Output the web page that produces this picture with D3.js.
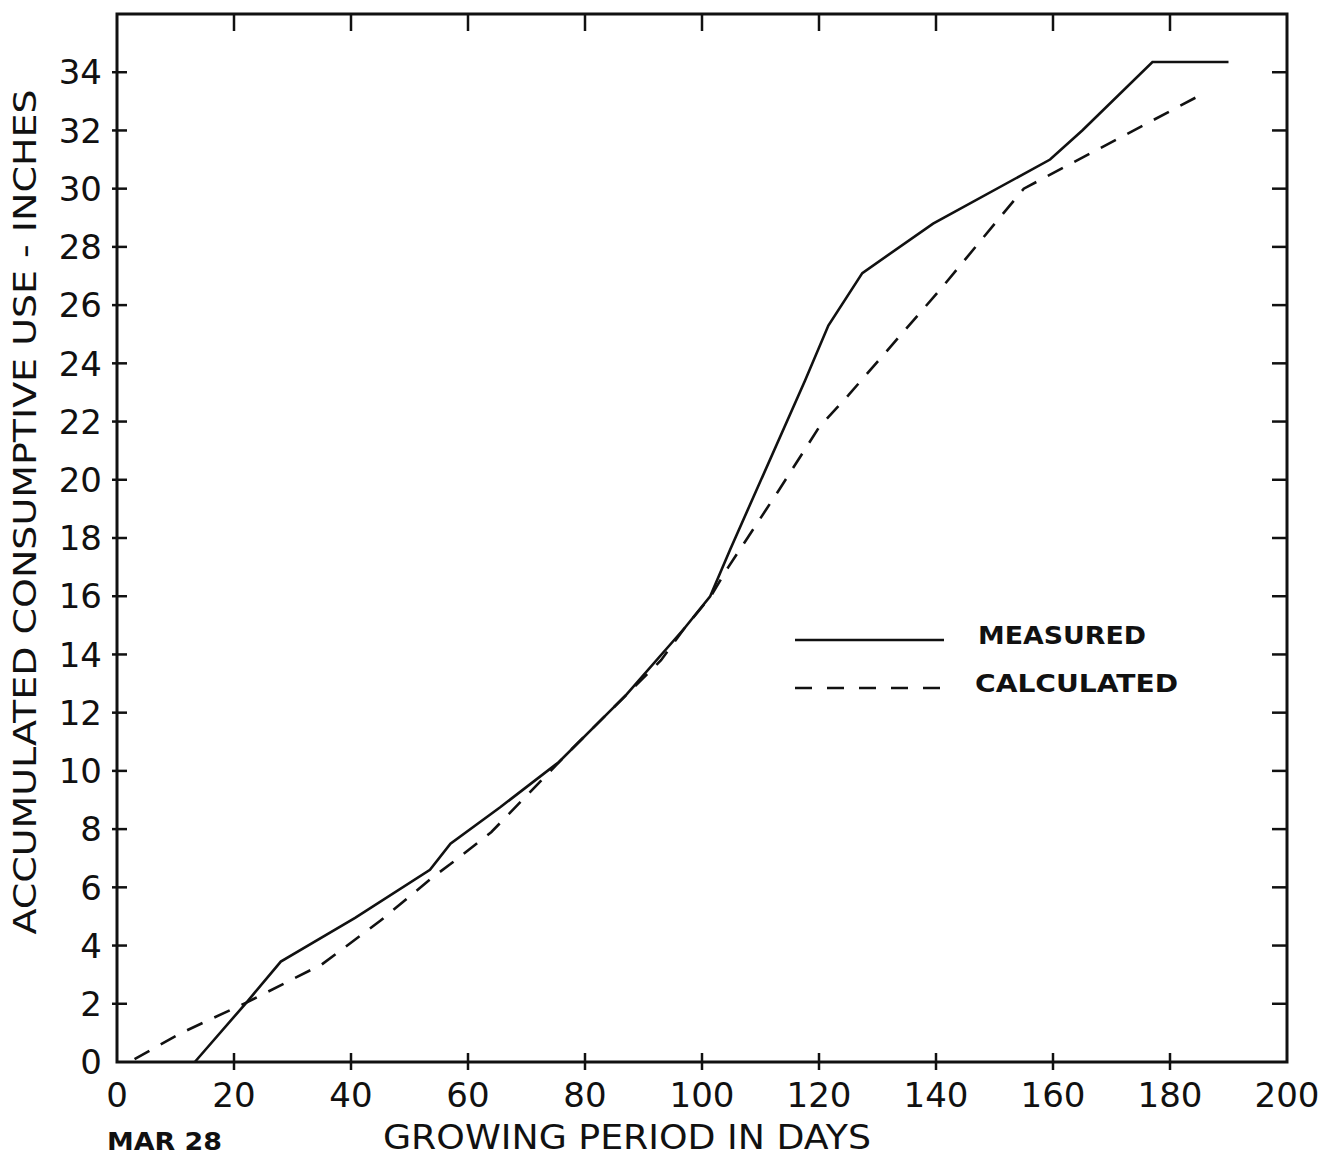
<!DOCTYPE html>
<html>
  <head>
    <meta charset="utf-8">
    <title>Accumulated Consumptive Use</title>
    <style>
      body {
        margin: 0;
        background: #fff;
      }
      svg text {
        font-family: 'DejaVu Sans', sans-serif;
        fill: #111;
      }
      .tick-label {
        font-size: 34px;
      }
      .axis-title {
        font-size: 32px;
      }
      .legend-label {
        font-size: 25px;
        font-weight: bold;
      }
      .date-label {
        font-size: 24px;
        font-weight: bold;
      }
    </style>
  </head>
  <body>
    <svg width="1338" height="1159"></svg>
    <script src="https://d3js.org/d3.v7.min.js"></script>
    <script>
      // day, inches
      const measuredDays = [13.3, 22.2, 28, 40.7, 53.5, 57, 65.5, 75.5, 87, 97, 101.4, 104.8, 117.6, 121.6, 127.4, 139.5, 159.5, 165, 177, 190];
      const measuredUse = [0, 2.06, 3.45, 4.95, 6.6, 7.5, 8.75, 10.3, 12.6, 14.9, 16.0, 17.6, 23.4, 25.3, 27.1, 28.8, 31.0, 32.0, 34.35, 34.35];

      const calculatedDays = [3, 11, 22.2, 35, 45, 54, 57, 64, 77, 93, 97, 101.5, 104.5, 113, 120, 125, 141, 155, 186];
      const calculatedUse = [0.1, 1.0, 2.05, 3.35, 4.85, 6.35, 6.8, 7.9, 10.6, 13.8, 14.9, 16.0, 17.0, 19.6, 21.8, 22.9, 26.6, 30.0, 33.3];

      const xTicks = [0, 20, 40, 60, 80, 100, 120, 140, 160, 180, 200];
      const yTicks = [0, 2, 4, 6, 8, 10, 12, 14, 16, 18, 20, 22, 24, 26, 28, 30, 32, 34];

      const svg = d3.select('svg');

      const x = d3.scaleLinear().domain([0, 200]).range([117, 1287]);
      const y = d3.scaleLinear().domain([0, 36]).range([1062, 14]);

      const toPoints = (xs, ys) => xs.map((d, i) => [d, ys[i]]);
      const line = d3.line()
        .x(d => x(d[0]))
        .y(d => y(d[1]));

      // frame
      svg.append('rect')
        .attr('x', x(0))
        .attr('y', y(36))
        .attr('width', x(200) - x(0))
        .attr('height', y(0) - y(36))
        .attr('fill', 'none')
        .attr('stroke', '#111')
        .attr('stroke-width', 3);

      // bottom ticks cross the axis, top ones point inward
      svg.append('g').selectAll('line')
        .data(xTicks.slice(1, -1))
        .join('line')
          .attr('x1', d => x(d)).attr('x2', d => x(d))
          .attr('y1', y(0) - 9).attr('y2', y(0) + 8)
          .attr('stroke', '#111').attr('stroke-width', 2.5);

      svg.append('g').selectAll('line')
        .data(xTicks.slice(1, -1))
        .join('line')
          .attr('x1', d => x(d)).attr('x2', d => x(d))
          .attr('y1', y(36)).attr('y2', y(36) + 17)
          .attr('stroke', '#111').attr('stroke-width', 2.5);

      svg.append('g').selectAll('line')
        .data(yTicks.slice(1))
        .join('line')
          .attr('x1', x(0) - 5).attr('x2', x(0) + 10)
          .attr('y1', d => y(d)).attr('y2', d => y(d))
          .attr('stroke', '#111').attr('stroke-width', 2.5);

      svg.append('g').selectAll('line')
        .data(yTicks.slice(1))
        .join('line')
          .attr('x1', x(200) - 15).attr('x2', x(200))
          .attr('y1', d => y(d)).attr('y2', d => y(d))
          .attr('stroke', '#111').attr('stroke-width', 2.5);

      // tick labels
      svg.append('g').selectAll('text')
        .data(yTicks)
        .join('text')
          .attr('class', 'tick-label')
          .attr('x', 102)
          .attr('y', d => y(d))
          .attr('dy', '0.36em')
          .attr('text-anchor', 'end')
          .text(d => d);

      svg.append('g').selectAll('text')
        .data(xTicks)
        .join('text')
          .attr('class', 'tick-label')
          .attr('x', d => x(d))
          .attr('y', 1107)
          .attr('text-anchor', 'middle')
          .text(d => d);

      // axis titles
      svg.append('text')
        .attr('class', 'axis-title')
        .attr('transform', 'translate(36,512) rotate(-90)')
        .attr('text-anchor', 'middle')
        .attr('textLength', 845)
        .attr('lengthAdjust', 'spacingAndGlyphs')
        .text('ACCUMULATED CONSUMPTIVE USE - INCHES');

      svg.append('text')
        .attr('class', 'axis-title')
        .style('font-size', '34px')
        .attr('x', 383)
        .attr('y', 1149)
        .attr('textLength', 488)
        .attr('lengthAdjust', 'spacingAndGlyphs')
        .text('GROWING PERIOD IN DAYS');

      svg.append('text')
        .attr('class', 'date-label')
        .attr('x', 107)
        .attr('y', 1150)
        .attr('textLength', 115)
        .attr('lengthAdjust', 'spacingAndGlyphs')
        .text('MAR 28');

      // series
      svg.append('path')
        .attr('d', line(toPoints(measuredDays, measuredUse)))
        .attr('fill', 'none')
        .attr('stroke', '#111')
        .attr('stroke-width', 2.6);

      svg.append('path')
        .attr('d', line(toPoints(calculatedDays, calculatedUse)))
        .attr('fill', 'none')
        .attr('stroke', '#111')
        .attr('stroke-width', 2.6)
        .attr('stroke-dasharray', '17,13');

      // legend
      const legend = svg.append('g');
      legend.append('line')
        .attr('x1', 795).attr('x2', 944)
        .attr('y1', 640).attr('y2', 640)
        .attr('stroke', '#111').attr('stroke-width', 2.5);
      legend.append('line')
        .attr('x1', 795).attr('x2', 940)
        .attr('y1', 688).attr('y2', 688)
        .attr('stroke', '#111').attr('stroke-width', 2.5)
        .attr('stroke-dasharray', '17,15');
      legend.append('text')
        .attr('class', 'legend-label')
        .attr('x', 978).attr('y', 644)
        .attr('textLength', 168)
        .attr('lengthAdjust', 'spacingAndGlyphs')
        .text('MEASURED');
      legend.append('text')
        .attr('class', 'legend-label')
        .attr('x', 975).attr('y', 692)
        .attr('textLength', 203)
        .attr('lengthAdjust', 'spacingAndGlyphs')
        .text('CALCULATED');
    </script>
  </body>
</html>
